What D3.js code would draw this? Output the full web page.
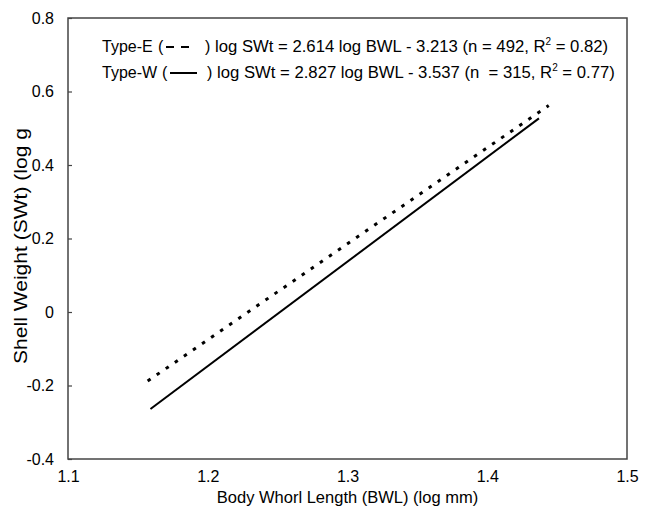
<!DOCTYPE html>
<html>
<head>
<meta charset="utf-8">
<script src="https://cdnjs.cloudflare.com/ajax/libs/d3/7.8.5/d3.min.js"></script>
<style>
  body { margin: 0; background: #fff; }
  text { font-family: "Liberation Sans", Arial, sans-serif; fill: #000; }
</style>
</head>
<body>
<svg id="graph" width="645" height="520"></svg>
<script>
// end points of the two regression lines
let typeNames = ['Type-E', 'Type-W']
let bwlE = [1.157, 1.444]
let swtE = [-0.188, 0.562]
let bwlW = [1.159, 1.437]
let swtW = [-0.264, 0.527]
let equations = [
  {pre: 'log SWt = 2.614 log BWL - 3.213 (n = 492, R', post: ' = 0.82)'},
  {pre: 'log SWt = 2.827 log BWL - 3.537 (n \u00a0= 315, R', post: ' = 0.77)'}
]
let xTicks = [1.1, 1.2, 1.3, 1.4, 1.5]
let yTicks = [-0.4, -0.2, 0, 0.2, 0.4, 0.6, 0.8]

function chartData() {
//========================= GRAB & SET UP SVG ELEMENT ============================
  let svg = d3.select("#graph"),
  margin = {top: 18, right: 18, bottom: 61, left: 68},
  width = svg.attr("width") - margin.left - margin.right,
  height = svg.attr("height") - margin.top - margin.bottom,
  g = svg.append("g").attr("transform", "translate(" + margin.left + "," + margin.top + ")")

  let x = d3.scaleLinear().domain([1.1, 1.5]).range([0, width]),
      y = d3.scaleLinear().domain([-0.4, 0.8]).range([height, 0])

  // plain hyphen for negatives, like the original
  let fmt = function(d) { return d === 0 ? "0" : d.toFixed(1) }

  let series = [
    {id: typeNames[0], values: bwlE.map(function(d, i) { return {bwl: d, swt: swtE[i]} }), dash: "3.5,7.5", paren: [158, 205], eqX: 215},
    {id: typeNames[1], values: bwlW.map(function(d, i) { return {bwl: d, swt: swtW[i]} }), dash: null, paren: [162, 207], eqX: 217}
  ]

//========================== SET UP AXIS =======================================
  let xAxis = g.append("g")
    .attr("transform", "translate(0," + height + ")")
    .call(d3.axisBottom(x).tickValues(xTicks).tickSize(0).tickPadding(12).tickFormat(fmt))
  xAxis.select(".domain").remove()

  let yAxis = g.append("g")
    .call(d3.axisLeft(y).tickValues(yTicks).tickSize(-4).tickPadding(14).tickFormat(fmt))
  yAxis.select(".domain").remove()
  yAxis.selectAll(".tick line").attr("stroke", "#444").attr("stroke-width", 1.2)

  g.selectAll(".tick text").style("font-size", "16px").attr("fill", "#000")

  // frame
  g.append("rect")
    .attr("width", width)
    .attr("height", height)
    .attr("fill", "none")
    .attr("stroke", "#444")
    .attr("stroke-width", 1.5)

  svg.append("text")
    .attr("x", margin.left + width / 2)
    .attr("y", 503)
    .attr("text-anchor", "middle")
    .style("font-size", "16.5px")
    .text("Body Whorl Length (BWL) (log mm)")

  svg.append("text")
    .attr("transform", "translate(27,246) rotate(-90)")
    .attr("text-anchor", "middle")
    .attr("textLength", 236)
    .attr("lengthAdjust", "spacingAndGlyphs")
    .style("font-size", "17.5px")
    .text("Shell Weight (SWt) (log g")

//============================= SET UP LINES =====================================
  let line = d3.line()
    .x(function(d) { return x(d.bwl) })
    .y(function(d) { return y(d.swt) })

  g.selectAll(".fit")
    .data(series)
    .enter().append("path")
    .attr("class", "fit")
    .attr("d", function(d) { return line(d.values) })
    .attr("fill", "none")
    .attr("stroke", "#000")
    .attr("stroke-width", function(d) { return d.dash ? 3 : 2 })
    .attr("stroke-dasharray", function(d) { return d.dash })

//============================= LEGEND =====================================
  let legend = svg.selectAll(".legendItem")
    .data(series)
    .enter().append("g")
    .attr("class", "legendItem")
    .attr("transform", function(d, i) { return "translate(0," + (52 + i * 26) + ")" })

  legend.append("text").attr("x", 102).style("font-size", "16px").text(function(d) { return d.id })
  legend.append("text").attr("x", function(d) { return d.paren[0] }).style("font-size", "16px").text("(")
  legend.append("text").attr("x", function(d) { return d.paren[1] }).style("font-size", "16px").text(")")
  legend.append("line")
    .attr("x1", function(d) { return d.paren[0] + 8 })
    .attr("x2", function(d) { return d.paren[1] - 10 })
    .attr("y1", -5).attr("y2", -5)
    .attr("stroke", "#000")
    .attr("stroke-width", 2)
    .attr("stroke-dasharray", function(d) { return d.dash ? "8,7" : null })

  let eq = legend.append("text")
    .attr("x", function(d) { return d.eqX })
    .style("font-size", "16.7px")
  eq.append("tspan").text(function(d, i) { return equations[i].pre })
  eq.append("tspan").attr("dy", -7).style("font-size", "10px").text("2")
  eq.append("tspan").attr("dy", 7).text(function(d, i) { return equations[i].post })
}

chartData()
</script>
</body>
</html>
